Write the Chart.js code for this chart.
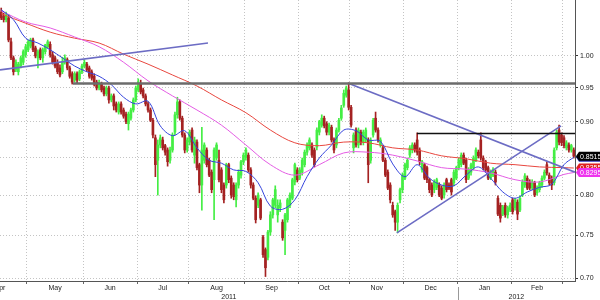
<!DOCTYPE html>
<html>
<head>
<meta charset="utf-8">
<script src="https://cdn.jsdelivr.net/npm/chart.js@4.4.0/dist/chart.umd.min.js"></script>
<style>
  html, body { margin: 0; padding: 0; background: #fff; }
</style>
</head>
<body>
<canvas id="grafico" width="600" height="300"></canvas>
<script>
// daily candles, mid Apr 2011 -> early Mar 2012 (one entry per trading day)
const openP = [
  1.073,1.066,1.060,1.063,1.023,0.997,0.978,0.975,0.984,0.990,
  1.002,1.010,1.016,1.026,1.013,0.997,1.010,0.997,1.007,1.015,
  1.019,1.002,0.997,0.989,0.981,0.975,0.990,0.994,0.981,0.972,
  0.962,0.972,0.964,0.975,0.984,0.987,0.981,0.975,0.968,0.959,
  0.950,0.956,0.950,0.941,0.950,0.932,0.938,0.926,0.914,0.926,
  0.917,0.911,0.897,0.905,0.917,0.932,0.947,0.956,0.947,0.938,
  0.926,0.917,0.902,0.877,0.846,0.867,0.874,0.866,0.860,0.846,
  0.860,0.885,0.910,0.929,0.905,0.881,0.860,0.871,0.888,0.853,
  0.871,0.840,0.813,0.846,0.860,0.846,0.830,0.820,0.849,0.846,
  0.833,0.813,0.813,0.840,0.822,0.813,0.794,0.813,0.826,0.844,
  0.850,0.853,0.833,0.813,0.796,0.787,0.794,0.748,0.733,0.724,
  0.754,0.775,0.787,0.775,0.784,0.766,0.756,0.769,0.787,0.796,
  0.817,0.833,0.822,0.830,0.840,0.857,0.863,0.867,0.860,0.864,
  0.885,0.895,0.905,0.897,0.885,0.892,0.874,0.867,0.888,0.905,
  0.924,0.939,0.947,0.921,0.863,0.888,0.867,0.885,0.871,0.874,
  0.874,0.846,0.881,0.905,0.888,0.867,0.863,0.846,0.830,0.813,
  0.787,0.779,0.766,0.794,0.807,0.822,0.836,0.853,0.860,0.867,
  0.874,0.860,0.833,0.840,0.836,0.820,0.813,0.807,0.810,0.813,
  0.809,0.800,0.820,0.813,0.820,0.816,0.822,0.836,0.840,0.853,
  0.846,0.822,0.830,0.836,0.846,0.857,0.874,0.849,0.844,0.836,
  0.822,0.826,0.830,0.796,0.787,0.776,0.787,0.775,0.781,0.794,
  0.784,0.791,0.781,0.800,0.813,0.822,0.817,0.809,0.816,0.803,
  0.807,0.813,0.822,0.840,0.826,0.822,0.816,0.863,0.888,0.881,
  0.877,0.863,0.867,0.860,0.860
];
const highP = [
  1.080,1.071,1.073,1.068,1.029,1.000,0.994,0.990,1.000,1.010,
  1.019,1.026,1.029,1.029,1.016,1.010,1.013,1.013,1.019,1.026,
  1.023,1.007,1.000,0.994,0.986,0.998,1.002,0.997,0.984,0.975,
  0.975,0.975,0.978,0.987,0.994,0.990,0.984,0.978,0.972,0.962,
  0.962,0.959,0.953,0.953,0.953,0.941,0.941,0.929,0.929,0.929,
  0.920,0.914,0.914,0.920,0.935,0.953,0.964,0.962,0.950,0.941,
  0.929,0.920,0.905,0.881,0.874,0.881,0.878,0.868,0.863,0.864,
  0.884,0.914,0.936,0.932,0.908,0.884,0.877,0.888,0.891,0.878,
  0.874,0.842,0.892,0.870,0.863,0.849,0.833,0.863,0.870,0.860,
  0.836,0.816,0.842,0.842,0.825,0.816,0.816,0.833,0.846,0.856,
  0.863,0.856,0.836,0.816,0.799,0.803,0.796,0.750,0.735,0.756,
  0.779,0.796,0.812,0.794,0.794,0.769,0.777,0.796,0.803,0.822,
  0.842,0.836,0.836,0.849,0.860,0.870,0.877,0.870,0.863,0.891,
  0.902,0.910,0.908,0.900,0.898,0.895,0.877,0.891,0.905,0.924,
  0.947,0.953,0.958,0.924,0.884,0.891,0.891,0.888,0.888,0.891,
  0.877,0.877,0.905,0.914,0.891,0.877,0.866,0.849,0.833,0.816,
  0.791,0.781,0.790,0.809,0.829,0.842,0.849,0.866,0.870,0.870,
  0.884,0.863,0.846,0.842,0.838,0.822,0.816,0.820,0.822,0.816,
  0.812,0.816,0.822,0.816,0.822,0.833,0.838,0.849,0.856,0.856,
  0.849,0.836,0.842,0.852,0.863,0.860,0.884,0.852,0.846,0.838,
  0.833,0.836,0.833,0.799,0.790,0.787,0.790,0.786,0.790,0.796,
  0.796,0.794,0.799,0.820,0.828,0.825,0.820,0.820,0.818,0.812,
  0.818,0.825,0.833,0.844,0.829,0.825,0.863,0.888,0.895,0.884,
  0.880,0.873,0.870,0.868,0.863
];
const lowP = [
  1.060,1.056,1.056,1.023,0.994,0.970,0.975,0.970,0.981,0.986,
  0.998,1.007,1.013,1.007,0.997,0.981,0.994,0.990,1.003,1.013,
  0.998,0.987,0.981,0.972,0.967,0.972,0.987,0.978,0.965,0.956,
  0.959,0.958,0.961,0.972,0.981,0.975,0.965,0.962,0.953,0.947,
  0.947,0.944,0.938,0.938,0.927,0.929,0.917,0.914,0.911,0.911,
  0.905,0.897,0.888,0.902,0.914,0.929,0.944,0.941,0.935,0.923,
  0.914,0.900,0.877,0.824,0.800,0.863,0.860,0.853,0.838,0.842,
  0.857,0.881,0.905,0.902,0.878,0.856,0.857,0.867,0.857,0.842,
  0.833,0.803,0.781,0.842,0.837,0.824,0.803,0.769,0.846,0.817,
  0.803,0.790,0.809,0.816,0.796,0.794,0.785,0.809,0.822,0.840,
  0.846,0.830,0.809,0.794,0.765,0.784,0.769,0.724,0.702,0.721,
  0.750,0.771,0.784,0.766,0.779,0.744,0.727,0.766,0.784,0.794,
  0.813,0.817,0.820,0.826,0.837,0.853,0.860,0.850,0.837,0.860,
  0.881,0.892,0.891,0.881,0.881,0.871,0.856,0.863,0.885,0.902,
  0.921,0.936,0.917,0.892,0.856,0.864,0.863,0.867,0.867,0.871,
  0.816,0.842,0.878,0.885,0.871,0.864,0.844,0.824,0.807,0.790,
  0.772,0.756,0.753,0.790,0.803,0.820,0.833,0.850,0.856,0.857,
  0.853,0.840,0.830,0.820,0.816,0.803,0.798,0.803,0.807,0.798,
  0.794,0.796,0.804,0.807,0.800,0.812,0.820,0.833,0.837,0.840,
  0.816,0.820,0.826,0.833,0.844,0.849,0.846,0.833,0.830,0.820,
  0.820,0.824,0.813,0.774,0.766,0.774,0.772,0.771,0.779,0.776,
  0.781,0.769,0.779,0.798,0.810,0.807,0.807,0.807,0.798,0.800,
  0.804,0.810,0.820,0.826,0.813,0.807,0.813,0.860,0.867,0.866,
  0.863,0.860,0.857,0.857,0.849
];
const closeP = [
  1.063,1.060,1.068,1.026,0.997,0.975,0.990,0.987,0.997,1.007,
  1.015,1.023,1.026,1.010,1.000,1.007,0.997,1.010,1.018,1.023,
  1.002,0.990,0.984,0.975,0.970,0.990,0.997,0.981,0.968,0.959,
  0.972,0.962,0.975,0.984,0.990,0.978,0.968,0.965,0.956,0.950,
  0.958,0.947,0.941,0.950,0.932,0.938,0.923,0.917,0.926,0.914,
  0.908,0.900,0.911,0.917,0.932,0.950,0.959,0.944,0.938,0.926,
  0.917,0.902,0.881,0.840,0.867,0.877,0.863,0.857,0.844,0.860,
  0.881,0.910,0.929,0.905,0.881,0.860,0.874,0.885,0.860,0.874,
  0.836,0.813,0.860,0.867,0.840,0.826,0.807,0.860,0.867,0.820,
  0.807,0.794,0.840,0.820,0.800,0.798,0.813,0.830,0.844,0.853,
  0.860,0.833,0.813,0.796,0.769,0.800,0.771,0.727,0.712,0.754,
  0.775,0.794,0.807,0.787,0.790,0.747,0.775,0.794,0.800,0.820,
  0.840,0.820,0.833,0.846,0.857,0.867,0.874,0.853,0.840,0.888,
  0.900,0.905,0.894,0.885,0.895,0.874,0.860,0.888,0.902,0.920,
  0.942,0.950,0.921,0.895,0.881,0.867,0.888,0.871,0.885,0.888,
  0.840,0.874,0.902,0.888,0.874,0.874,0.846,0.826,0.809,0.794,
  0.775,0.766,0.787,0.807,0.826,0.840,0.846,0.863,0.867,0.860,
  0.857,0.844,0.844,0.822,0.820,0.807,0.800,0.817,0.820,0.800,
  0.796,0.813,0.807,0.809,0.804,0.830,0.836,0.846,0.853,0.842,
  0.820,0.833,0.840,0.849,0.860,0.852,0.849,0.836,0.833,0.822,
  0.830,0.833,0.817,0.776,0.771,0.785,0.775,0.784,0.787,0.779,
  0.794,0.776,0.796,0.817,0.825,0.809,0.809,0.817,0.800,0.809,
  0.816,0.822,0.830,0.829,0.816,0.813,0.860,0.885,0.871,0.870,
  0.866,0.870,0.860,0.866,0.8515
];

const fastAt = [0,5,10,15,20,25,30,35,40,45,50,55,60,65,70,75,80,85,90,95,
  100,105,110,115,120,125,130,135,140,145,150,155,160,165,170,175,180,185,
  190,195,200,205,210,215,220,225,230,234];
const maFast = [1.077,1.060,1.029,1.021,1.010,0.997,0.984,0.975,0.968,0.955,
  0.936,0.926,0.930,0.894,0.880,0.887,0.863,0.846,0.842,0.833,
  0.831,0.816,0.786,0.782,0.794,0.824,0.849,0.867,0.888,0.887,
  0.874,0.872,0.841,0.824,0.840,0.822,0.813,0.812,0.826,0.837,
  0.822,0.804,0.796,0.804,0.810,0.814,0.840,0.850];
const slowAt = [0,10,20,30,40,50,60,70,80,90,100,110,120,130,140,150,160,170,180,190,200,210,220,230,234];
const maMid = [1.075,1.056,1.046,1.031,1.015,0.990,0.961,0.938,0.917,0.895,0.867,0.840,0.826,
  0.840,0.856,0.857,0.853,0.845,0.836,0.834,0.829,0.820,0.817,0.827,0.8295];
const maSlow = [1.070,1.054,1.039,1.029,1.021,1.003,0.987,0.970,0.953,0.932,0.913,0.888,0.870,
  0.866,0.871,0.870,0.863,0.860,0.852,0.848,0.842,0.840,0.837,0.836,0.8355];

// hand drawn lines: [bar, price] pairs
const trendUpEarly = [[-0.5, 0.978], [84.5, 1.021]];
const resistGrey = [[29.3, 0.957], [234.5, 0.957]];
const neckBlack = [[169.9, 0.883], [234.5, 0.883]];
const trendDown = [[142.1, 0.957], [234.5, 0.830]];
const trendUpLate = [[161.7, 0.753], [228.8, 0.894]];

// axes
const months = ['Apr','May','Jun','Jul','Aug','Sep','Oct','Nov','Dec','Jan','Feb'];
const monthStart = [-11.5, 10.5, 33.5, 55.5, 76.5, 99.5, 121.5, 142.5, 164.5, 186.5, 208.5, 229.5];
const years = ['2011', '2012'];
const yearStart = [-0.5, 186.5];
const yTicks = [0.70, 0.75, 0.80, 0.85, 0.90, 0.95, 1.00];
const xMin = -0.5, xMax = 234.5;
const yMin = 0.697, yMax = 1.094;

const verde = '#44ee44';
const vermelho = '#a42222';

function pares(arr) { return arr.map(p => ({ x: p[0], y: p[1] })); }
function amostras(xs, ys) { return xs.map((x, k) => ({ x: x, y: ys[k] })); }

function xTicks() {
  const t = [];
  for (let i = 1; i < monthStart.length; i++) t.push({ value: monthStart[i], kind: 'bound' });
  for (let i = 0; i < months.length; i++) {
    t.push({ value: (monthStart[i] + monthStart[i + 1]) / 2, kind: 'month', txt: months[i] });
  }
  for (let i = 0; i < years.length; i++) {
    const fim = i + 1 < yearStart.length ? yearStart[i + 1] : xMax;
    t.push({ value: (yearStart[i] + fim) / 2, kind: 'year', txt: years[i] });
  }
  return t.sort((a, b) => a.value - b.value);
}

const etiquetas = {
  id: 'etiquetas',
  afterDraw(chart) {
    const { ctx } = chart;
    const ys = chart.scales.y, xs = chart.scales.x;
    // year separator under the axis
    const xb = Math.round(xs.getPixelForValue(yearStart[1])) + 0.5;
    ctx.save();
    ctx.strokeStyle = '#999';
    ctx.lineWidth = 1;
    ctx.beginPath();
    ctx.moveTo(xb, 287);
    ctx.lineTo(xb, 300);
    ctx.stroke();

    const tags = [
      { v: maFast[maFast.length - 1], bg: '#2b35b8' },
      { v: closeP[closeP.length - 1], bg: '#000000' },
      { v: maSlow[maSlow.length - 1], bg: '#e02020' },
      { v: maMid[maMid.length - 1], bg: '#ee33ee' }
    ];
    ctx.font = '7px "Liberation Sans", Arial, sans-serif';
    ctx.textBaseline = 'middle';
    ctx.textAlign = 'left';
    const x0 = chart.chartArea.right + 1;
    tags.forEach(t => {
      const y = ys.getPixelForValue(t.v);
      ctx.fillStyle = t.bg;
      ctx.beginPath();
      ctx.moveTo(x0, y);
      ctx.lineTo(x0 + 3, y - 4.5);
      ctx.lineTo(600, y - 4.5);
      ctx.lineTo(600, y + 4.5);
      ctx.lineTo(x0 + 3, y + 4.5);
      ctx.closePath();
      ctx.fill();
      ctx.fillStyle = '#fff';
      ctx.fillText(t.v.toFixed(4), x0 + 4, y + 0.5);
    });
    ctx.restore();
  }
};

Chart.defaults.font.family = '"Liberation Sans", Arial, sans-serif';
Chart.defaults.font.size = 7;
Chart.defaults.color = '#222';

const linha = (dados, cor, largura, ordem, tensao) => ({
  type: 'line',
  data: dados,
  borderColor: cor,
  borderWidth: largura,
  pointRadius: 0,
  tension: tensao || 0,
  fill: false,
  order: ordem
});

new Chart(document.getElementById('grafico'), {
  type: 'line',
  data: {
    datasets: [
      linha(pares(resistGrey), '#6c6c6c', 2.5, 1),
      linha(pares(neckBlack), '#111', 1.5, 1),
      linha(pares(trendUpEarly), '#6c6cc4', 1.6, 1),
      linha(pares(trendDown), '#6c6cc4', 1.6, 1),
      linha(pares(trendUpLate), '#6c6cc4', 1.6, 1),
      linha(amostras(fastAt, maFast), '#3544dc', 1, 2, 0.35),
      linha(amostras(slowAt, maMid), '#e45ce4', 1, 3, 0.35),
      linha(amostras(slowAt, maSlow), '#e8473f', 1, 3, 0.35),
      {
        type: 'bar',
        data: openP.map((o, i) => ({ x: i, y: [o, closeP[i]] })),
        backgroundColor: c => closeP[c.dataIndex] >= openP[c.dataIndex] ? verde : vermelho,
        borderWidth: 0,
        barThickness: 2,
        grouped: false,
        order: 5
      },
      {
        type: 'bar',
        data: lowP.map((l, i) => ({ x: i, y: [l, highP[i]] })),
        backgroundColor: c => closeP[c.dataIndex] >= openP[c.dataIndex] ? verde : vermelho,
        borderWidth: 0,
        barThickness: 1,
        grouped: false,
        order: 6
      }
    ]
  },
  options: {
    responsive: false,
    animation: false,
    devicePixelRatio: 1,
    layout: { padding: 0 },
    plugins: { legend: { display: false }, tooltip: { enabled: false } },
    scales: {
      x: {
        type: 'linear',
        min: xMin,
        max: xMax,
        bounds: 'data',
        offset: false,
        grid: {
          offset: false,
          color: c => c.tick && c.tick.kind === 'bound' ? '#c4c4c4' : 'rgba(0,0,0,0)',
          lineWidth: c => c.tick && c.tick.kind === 'bound' ? 1 : 0,
          tickColor: c => c.tick && c.tick.kind === 'bound' ? '#666' : 'rgba(0,0,0,0)',
          tickLength: 3
        },
        border: { color: '#555', width: 1, dash: [1, 2] },
        ticks: {
          autoSkip: false,
          maxRotation: 0,
          minRotation: 0,
          padding: 0,
          color: '#222',
          callback: (v, i, ticks) => {
            const t = ticks[i];
            if (t.kind === 'month') return t.txt;
            if (t.kind === 'year') return ['', t.txt];
            return '';
          }
        },
        afterBuildTicks: s => { s.ticks = xTicks(); },
        afterFit: s => { s.height = 19; s.paddingLeft = 0; s.paddingRight = 0; }
      },
      y: {
        type: 'logarithmic',
        position: 'right',
        min: yMin,
        max: yMax,
        bounds: 'data',
        beginAtZero: false,
        grid: { color: '#c4c4c4', lineWidth: 1, tickColor: '#333', tickLength: 3 },
        border: { color: '#555', width: 1, dash: [1, 2] },
        ticks: {
          padding: 2,
          color: '#222',
          callback: v => Number(v).toFixed(2)
        },
        afterBuildTicks: s => { s.ticks = yTicks.map(v => ({ value: v })); },
        afterFit: s => { s.width = 25; s.paddingTop = 0; s.paddingBottom = 0; }
      }
    }
  },
  plugins: [etiquetas]
});
</script>
</body>
</html>
